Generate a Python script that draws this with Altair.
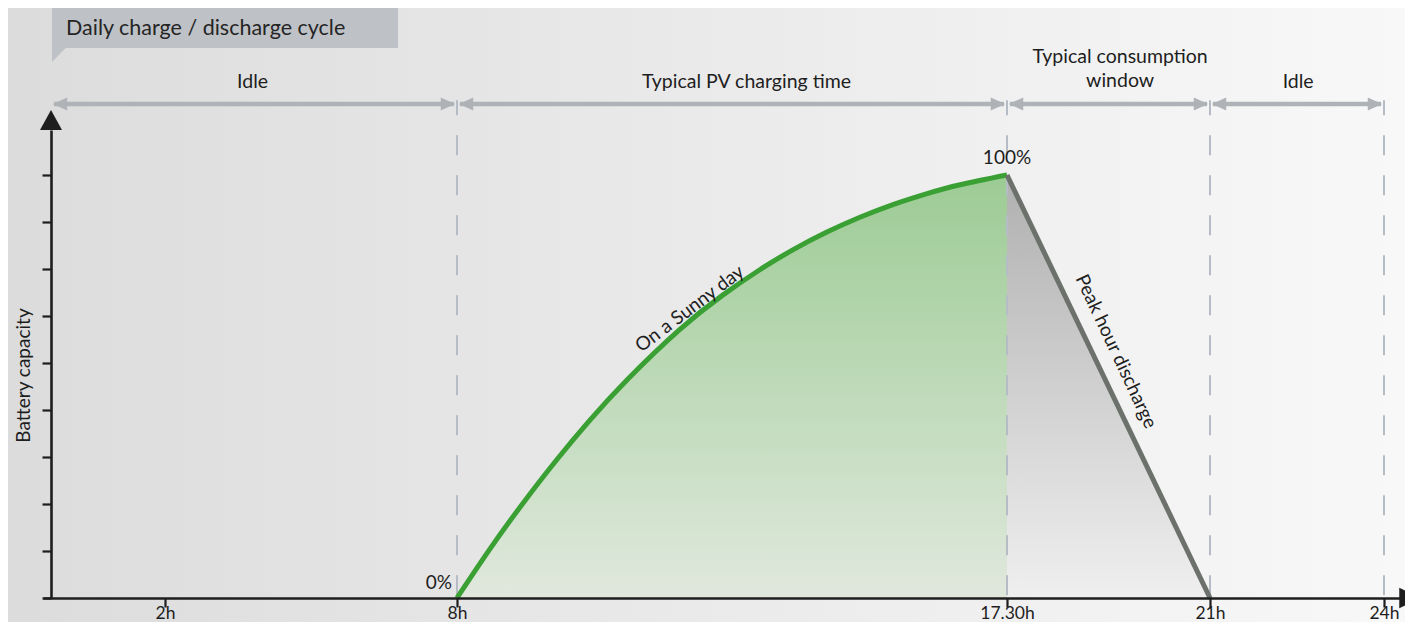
import altair as alt
import pandas as pd

# ------------------------------------------------------------------ data
charge_hours = [8.0, 8.57, 9.14, 9.73, 10.3, 10.94, 11.85, 12.59, 13.23, 13.8,
                14.39, 14.96, 15.53, 16.12, 16.69, 17.5]
charge_pct = [0, 11.6, 22.4, 32.8, 42.1, 51.6, 63.5, 71.6, 77.6, 82.3,
              86.5, 90.0, 93.0, 95.6, 97.7, 100]

discharge_hours = [17.5, 21.0]
discharge_pct = [100, 0]

tick_hours = [2, 8, 17.5, 21, 24]
tick_labels = ["2h", "8h", "17.30h", "21h", "24h"]
capacity_ticks = [0, 11.11, 22.22, 33.33, 44.44, 55.56, 66.67, 77.78, 88.89, 100]

boundary_hours = [8, 17.5, 21, 24]
period_start = [0, 8, 17.5, 21]
period_end = [8, 17.5, 21, 24]

top_texts = ["Idle", "Typical PV charging time", "Typical consumption", "window", "Idle"]
top_text_hours = [3.8, 13.0, 19.45, 19.45, 22.52]
top_text_pct = [120.6, 120.6, 126.5, 120.8, 120.6]

title_text = "Daily charge / discharge cycle"
y_title = "Battery capacity"
curve_label = "On a Sunny day"
discharge_label = "Peak hour discharge"
full_label = "100%"
empty_label = "0%"

# ------------------------------------------------------------------ layout / style
W, H = 1354, 468
PAD = {"left": 43, "top": 122, "right": 0, "bottom": 24}
Y_MAX = 110.64
FONT = "Lato"
INK = "#1e1e1e"
GREEN = "#3aa034"
DGREY = "#6c716c"
ARROW = "#afb3b8"
DASH = "#b5bcc5"
BOX = "#bec1c5"

xs = alt.Scale(domain=[-0.14, 0, 2, 8, 17.5, 21, 24, 24.5],
               range=[-8, 0, 114, 406, 956, 1159, 1333, 1362],
               nice=False, zero=False)
ys = alt.Scale(domain=[0, Y_MAX], nice=False, zero=False)

label_expr = "''"
for h, l in reversed(list(zip(tick_hours, tick_labels))):
    label_expr = f"datum.value == {h} ? '{l}' : ({label_expr})"

x_axis = alt.Axis(values=tick_hours, labelExpr=label_expr, title=None, grid=False,
                  domainColor=INK, domainWidth=2.6, tickColor=INK, tickWidth=2.2,
                  tickSize=9, labelFont=FONT, labelFontSize=17.5, labelColor=INK,
                  labelBaseline="alphabetic", labelPadding=11,
                  labelFlush=False, labelOverlap=False, zindex=1)
y_axis = alt.Axis(values=capacity_ticks, labels=False, title=y_title, grid=False,
                  domainColor=INK, domainWidth=2.6, tickColor=INK, tickWidth=2.2,
                  tickSize=9, titleFont=FONT, titleFontSize=19, titleFontWeight="normal",
                  titleColor=INK, titleAngle=270, titleX=-28, titleY=245,
                  titleAlign="center", titleBaseline="middle", zindex=1)


def X(f):
    return alt.X(f, type="quantitative", scale=xs, axis=x_axis)


def Y(f):
    return alt.Y(f, type="quantitative", scale=ys, axis=y_axis)


# ------------------------------------------------------------------ layers
bg = alt.Chart(pd.DataFrame({"k": [0]})).mark_rect(
    color=alt.LinearGradient(gradient="linear", x1=0, x2=1, y1=0, y2=0,
                             stops=[alt.GradientStop(color="#dcdcdc", offset=0),
                                    alt.GradientStop(color="#f8f8f8", offset=1)])
).encode(x=alt.value(-PAD["left"]), x2=alt.value(W),
         y=alt.value(-PAD["top"]), y2=alt.value(H + PAD["bottom"]))

box = alt.Chart(pd.DataFrame({"x0": [0.0175], "x1": [6.787], "y0": [139.5], "y1": [130.0]})
                ).mark_rect(color=BOX).encode(x=X("x0"), x2="x1", y=Y("y0"), y2="y1")
tail = alt.Chart(pd.DataFrame({"x": [0.0175, 0.263], "top": [130.1, 130.1], "bot": [126.7, 130.1]})
                 ).mark_area(color=BOX).encode(x=X("x"), y=Y("top"), y2="bot")
title = alt.Chart(pd.DataFrame({"x": [0.263], "y": [133.1], "t": [title_text]})).mark_text(
    align="left", baseline="alphabetic", font=FONT, fontSize=21.5, color="#252525"
).encode(x=X("x"), y=Y("y"), text="t")

charge_df = pd.DataFrame({"hour": charge_hours, "pct": charge_pct})
discharge_df = pd.DataFrame({"hour": discharge_hours, "pct": discharge_pct})

green_area = alt.Chart(charge_df).mark_area(
    interpolate="natural",
    color=alt.LinearGradient(gradient="linear", x1=0, x2=0, y1=0, y2=1,
                             stops=[alt.GradientStop(color="#9ccb94", offset=0),
                                    alt.GradientStop(color="#e0e8dd", offset=1)])
).encode(x=X("hour"), y=Y("pct"), y2=alt.datum(0))
grey_area = alt.Chart(discharge_df).mark_area(
    color=alt.LinearGradient(gradient="linear", x1=0, x2=0, y1=0, y2=1,
                             stops=[alt.GradientStop(color="#b0b0b0", offset=0),
                                    alt.GradientStop(color="#efefef", offset=1)])
).encode(x=X("hour"), y=Y("pct"), y2=alt.datum(0))

dashed = alt.Chart(pd.DataFrame({"hour": boundary_hours, "top": [117.7] * 4, "bot": [0] * 4})
                   ).mark_rule(color=DASH, strokeWidth=2, strokeDash=[20, 20], strokeDashOffset=5
                               ).encode(x=X("hour"), y=Y("top"), y2="bot")

green_line = alt.Chart(charge_df).mark_line(interpolate="natural", color=GREEN, strokeWidth=5
                                            ).encode(x=X("hour"), y=Y("pct"))
grey_line = alt.Chart(discharge_df).mark_line(color=DGREY, strokeWidth=5
                                              ).encode(x=X("hour"), y=Y("pct"))

arrow_df = pd.DataFrame({"start": period_start, "end": period_end, "lvl": [116.8] * 4})
arrow_rules = alt.Chart(arrow_df).mark_rule(color=ARROW, strokeWidth=4.5, xOffset=3, x2Offset=-3
                                            ).encode(x=X("start"), x2="end", y=Y("lvl"))
left_heads = alt.Chart(arrow_df).mark_point(
    shape="M-1,0L1,-0.9L1,0.9Z", size=210, filled=True, opacity=1, color=ARROW, strokeWidth=0,
    xOffset=9).encode(x=X("start"), y=Y("lvl"))
right_heads = alt.Chart(arrow_df).mark_point(
    shape="M1,0L-1,-0.9L-1,0.9Z", size=210, filled=True, opacity=1, color=ARROW, strokeWidth=0,
    xOffset=-9).encode(x=X("end"), y=Y("lvl"))

top_labels = alt.Chart(pd.DataFrame({"hour": top_text_hours, "pct": top_text_pct, "t": top_texts})
                       ).mark_text(font=FONT, fontSize=19.5, color=INK, align="center",
                                   baseline="alphabetic").encode(x=X("hour"), y=Y("pct"), text="t")

full_txt = alt.Chart(pd.DataFrame({"hour": [17.5], "pct": [102.6], "t": [full_label]})).mark_text(
    font=FONT, fontSize=19, color=INK, align="center", baseline="alphabetic"
).encode(x=X("hour"), y=Y("pct"), text="t")
empty_txt = alt.Chart(pd.DataFrame({"hour": [7.897], "pct": [2.1], "t": [empty_label]})).mark_text(
    font=FONT, fontSize=19, color=INK, align="right", baseline="alphabetic"
).encode(x=X("hour"), y=Y("pct"), text="t")

sunny_txt = alt.Chart(pd.DataFrame({"hour": [12.02], "pct": [68.4], "t": [curve_label]})).mark_text(
    font=FONT, fontSize=19, color=INK, align="center", baseline="middle", angle=323
).encode(x=X("hour"), y=Y("pct"), text="t")
peak_txt = alt.Chart(pd.DataFrame({"hour": [19.38], "pct": [58.3], "t": [discharge_label]})).mark_text(
    font=FONT, fontSize=19, color=INK, align="center", baseline="middle", angle=65
).encode(x=X("hour"), y=Y("pct"), text="t")

y_head = alt.Chart(pd.DataFrame({"hour": [0], "pct": [113.0]})).mark_point(
    shape="M0,-0.9L1,0.9L-1,0.9Z", size=484, filled=True, opacity=1, color=INK, strokeWidth=0
).encode(x=X("hour"), y=Y("pct"))
x_head = alt.Chart(pd.DataFrame({"hour": [24.44], "pct": [0]})).mark_point(
    shape="M1,0L-1,-1L-1,1Z", size=420, filled=True, opacity=1, color=INK, strokeWidth=0
).encode(x=X("hour"), y=Y("pct"))

chart = alt.layer(
    bg, box, tail, title, green_area, grey_area, dashed, green_line, grey_line,
    arrow_rules, left_heads, right_heads, top_labels, full_txt, empty_txt,
    sunny_txt, peak_txt, y_head, x_head
).properties(
    width=W, height=H, padding=PAD, autosize=alt.AutoSizeParams(type="none")
).configure_view(stroke=None).configure(background="#e6e6e6")

chart.save("out.html", embed_options={"renderer": "svg", "actions": False})
